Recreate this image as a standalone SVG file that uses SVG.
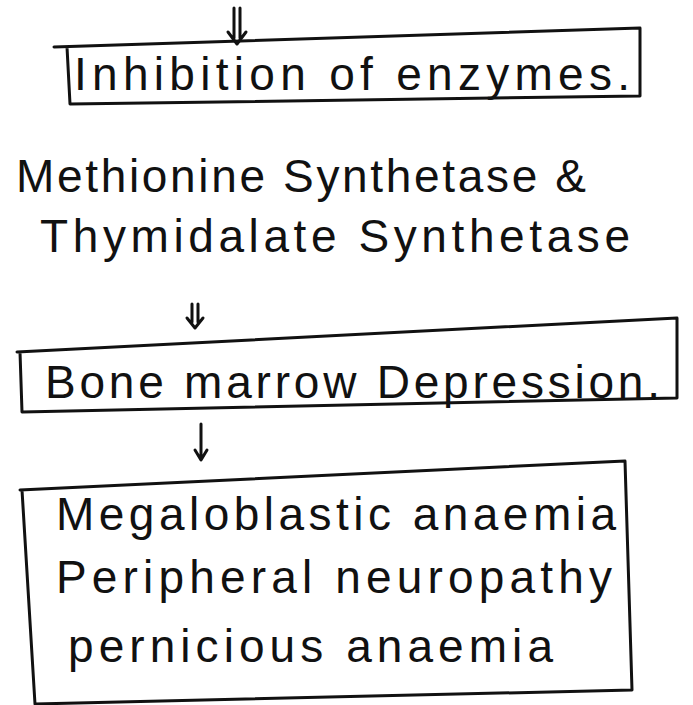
<svg xmlns="http://www.w3.org/2000/svg" width="693" height="705" viewBox="0 0 693 705">
<style>
.ln{fill:none;stroke:#111;stroke-width:3;stroke-linecap:round;stroke-linejoin:round}
.t{font-family:"Liberation Sans","DejaVu Sans",sans-serif;font-size:46px;fill:#111}
</style>
<rect width="693" height="705" fill="#fff"/>
<g id="connectors">
<path class="ln" d="M234,8 L234,38 M240,8 L240,38 M228,32 L237,44 L246,32"/>
<path class="ln" d="M192,304 L192,322 M198,304 L198,322 M187,318 L195,328 L203,318"/>
<path class="ln" d="M201,424 L201,458 M195,450 L201,460 L207,450"/>
</g>
<g id="node-inhibition">
<path class="ln" d="M54,47 L640,28 L640,96 L70,104 L67,47"/>
<text class="t" x="74" y="90" textLength="556" lengthAdjust="spacing">Inhibition of enzymes.</text>
</g>
<g id="node-enzymes">
<text class="t" x="16" y="192" textLength="570" lengthAdjust="spacing">Methionine Synthetase &amp;</text>
<text class="t" x="40" y="252" textLength="590" lengthAdjust="spacing">Thymidalate Synthetase</text>
</g>
<g id="node-bone-marrow">
<path class="ln" d="M17,352 L677,318 L677,398 L22,412 L20,352"/>
<text class="t" x="45" y="398" textLength="615" lengthAdjust="spacing">Bone marrow Depression.</text>
</g>
<g id="node-effects">
<path class="ln" d="M20,490 L625,461 L632,690 L35,704 L22,490"/>
<text class="t" x="56" y="530" textLength="560" lengthAdjust="spacing">Megaloblastic anaemia</text>
<text class="t" x="56" y="593" textLength="556" lengthAdjust="spacing">Peripheral neuropathy</text>
<text class="t" x="68" y="662" textLength="485" lengthAdjust="spacing">pernicious anaemia</text>
</g>
</svg>
